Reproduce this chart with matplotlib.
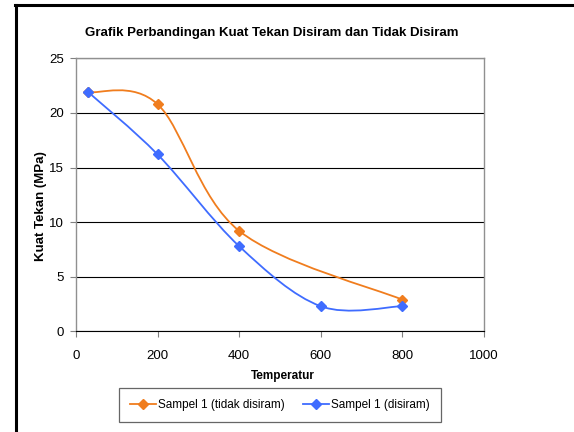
import matplotlib
matplotlib.use('Agg')
import matplotlib.pyplot as plt
from matplotlib.path import Path
from matplotlib.patches import PathPatch
from matplotlib.lines import Line2D
import numpy as np

plt.rcParams['font.family'] = ['Liberation Sans', 'DejaVu Sans']

# data
temp_tidak = [30, 200, 400, 800]
kuat_tidak = [21.9, 20.8, 9.2, 2.9]
temp_siram = [30, 200, 400, 600, 800]
kuat_siram = [21.9, 16.2, 7.8, 2.3, 2.3]
x_ticks = [0, 200, 400, 600, 800, 1000]
y_ticks = [0, 5, 10, 15, 20, 25]

ORANGE = '#F07D1E'
BLUE = '#3F6CFF'


def smooth_path(xs, ys):
    # excel-like smoothed line: catmull-rom as cubic bezier
    pts = np.column_stack([xs, ys]).astype(float)
    n = len(pts)
    verts = [pts[0]]
    codes = [Path.MOVETO]
    for i in range(n - 1):
        p_prev = pts[i - 1] if i > 0 else pts[i]
        p_next2 = pts[i + 2] if i + 2 < n else pts[i + 1]
        c1 = pts[i] + (pts[i + 1] - p_prev) / 6.0
        c2 = pts[i + 1] - (p_next2 - pts[i]) / 6.0
        verts += [c1, c2, pts[i + 1]]
        codes += [Path.CURVE4] * 3
    return Path(verts, codes)


fig = plt.figure(figsize=(5.74, 4.32), dpi=100)
ax = fig.add_axes([0.1324, 0.2331, 0.7103, 0.6319])

for xs, ys, col in [(temp_tidak, kuat_tidak, ORANGE), (temp_siram, kuat_siram, BLUE)]:
    ax.add_patch(PathPatch(smooth_path(xs, ys), fill=False, edgecolor=col, lw=1.3, zorder=3))
    ax.plot(xs, ys, linestyle='none', marker='D', ms=5, color=col, zorder=4)

ax.set_xlim(0, 1000)
ax.set_ylim(0, 25)
ax.set_xticks(x_ticks)
ax.set_yticks(y_ticks)
ax.tick_params(labelsize=9.5, labelcolor='black', color='#808080', length=4.5, width=0.8)
ax.tick_params(axis='x', pad=9)
ax.tick_params(axis='y', pad=4)

ax.grid(axis='y', color='#000000', lw=0.8)
ax.set_axisbelow(True)
for s in ['top', 'right', 'left']:
    ax.spines[s].set_color('#909090')
    ax.spines[s].set_linewidth(1.0)
ax.spines['bottom'].set_color('#000000')
ax.spines['bottom'].set_linewidth(0.8)

fig.text(272 / 574, 1 - 33 / 432, 'Grafik Perbandingan Kuat Tekan Disiram dan Tidak Disiram',
         fontsize=9.5, fontweight='bold', ha='center', va='center')
ax.set_xlabel('Temperatur', fontsize=8.5, fontweight='bold')
ax.xaxis.set_label_coords(0.507, -0.143)
ax.set_ylabel('Kuat Tekan (MPa)', fontsize=9.5, fontweight='bold')
ax.yaxis.set_label_coords(-0.07, 0.46)

handles = [Line2D([], [], color=ORANGE, marker='D', ms=5, lw=1.3),
           Line2D([], [], color=BLUE, marker='D', ms=5, lw=1.3)]
leg = fig.legend(handles, ['Sampel 1 (tidak disiram)', 'Sampel 1 (disiram)'],
                 loc='center', bbox_to_anchor=(280 / 574, 1 - 405 / 432), ncol=2,
                 fontsize=8.5, frameon=True, fancybox=False, handlelength=2.2,
                 handletextpad=0.15, columnspacing=1.6, borderpad=0.9, borderaxespad=0)
leg.get_frame().set_edgecolor('#404040')
leg.get_frame().set_linewidth(0.9)

# outer frame lines (top and left only visible)
fig.add_artist(Line2D([15 / 574, 1.0], [1 - 5 / 432, 1 - 5 / 432], color='black', lw=2.2,
                      transform=fig.transFigure))
fig.add_artist(Line2D([16 / 574, 16 / 574], [0, 1 - 5 / 432], color='black', lw=2.2,
                      transform=fig.transFigure))

fig.savefig('out.png', dpi=100)
